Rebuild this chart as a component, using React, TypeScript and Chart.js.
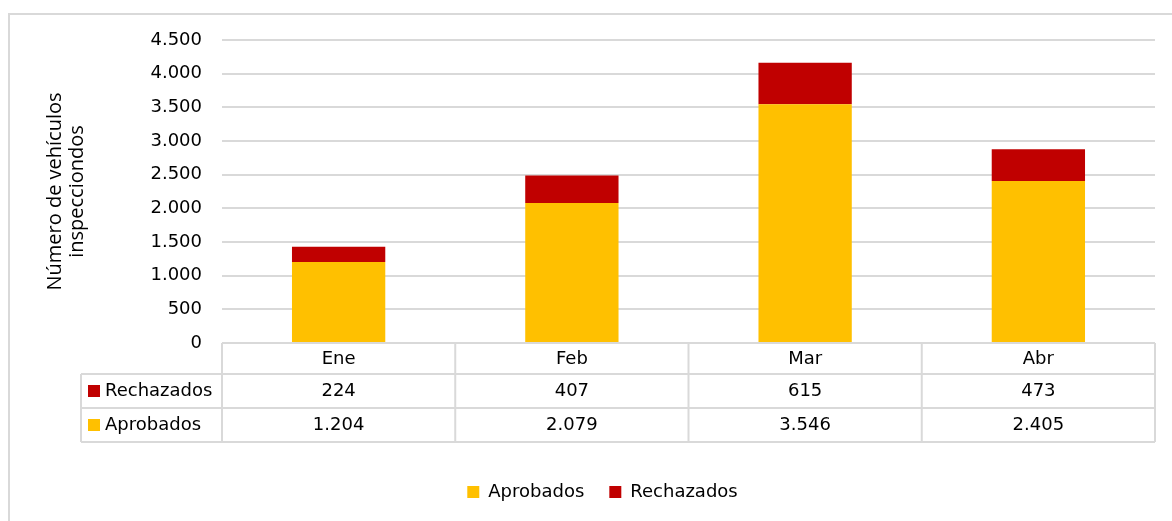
import React, { useEffect, useRef } from "react";
import { Chart, registerables } from "chart.js";

Chart.register(...registerables);

const categories = ["Ene", "Feb", "Mar", "Abr"];
const aprobados = [1204, 2079, 3546, 2405];
const rechazados = [224, 407, 615, 473];
const seriesNames = { aprobados: "Aprobados", rechazados: "Rechazados" };
const yTitle = ["Número de vehículos", "inspecciondos"];
const yMin = 0;
const yMax = 4500;
const yStep = 500;

const COLOR_APROB = "#FFC000";
const COLOR_RECH = "#C00000";
const GRID = "#d9d9d9";
const FONT = "'DejaVu Sans', sans-serif";

const fmt = (v: number) =>
  Math.round(v)
    .toString()
    .replace(/\B(?=(\d{3})+(?!\d))/g, ".");

const tableRows = [
  { label: seriesNames.rechazados, color: COLOR_RECH, values: rechazados },
  { label: seriesNames.aprobados, color: COLOR_APROB, values: aprobados },
];

const HEADER_H = 31;
const ROW_H = 34;
const LEGEND_COL_W = 141;

const tablePlugin = {
  id: "dataTable",
  afterDraw(chart: any) {
    const { ctx, chartArea } = chart;
    const x = chart.scales.x;
    const n = categories.length;
    const step = x.getPixelForValue(1) - x.getPixelForValue(0);
    const left = x.getPixelForValue(0) - step / 2;
    const right = x.getPixelForValue(n - 1) + step / 2;
    const top = chartArea.bottom;
    const headerBottom = top + HEADER_H;
    const bottom = headerBottom + ROW_H * tableRows.length;
    const legLeft = left - LEGEND_COL_W;

    ctx.save();
    ctx.strokeStyle = GRID;
    ctx.lineWidth = 2;
    ctx.beginPath();
    ctx.moveTo(left, top);
    ctx.lineTo(right, top);
    for (let r = 0; r <= tableRows.length; r++) {
      const y = headerBottom + r * ROW_H;
      ctx.moveTo(legLeft, y);
      ctx.lineTo(right, y);
    }
    ctx.moveTo(legLeft, headerBottom);
    ctx.lineTo(legLeft, bottom);
    for (let i = 0; i <= n; i++) {
      const xx = left + i * step;
      ctx.moveTo(xx, top);
      ctx.lineTo(xx, bottom);
    }
    ctx.stroke();

    ctx.font = `18px ${FONT}`;
    ctx.fillStyle = "#000";
    ctx.textBaseline = "middle";
    tableRows.forEach((row, r) => {
      const cy = headerBottom + r * ROW_H + ROW_H / 2;
      ctx.fillStyle = row.color;
      ctx.fillRect(legLeft + 7, cy - 6, 12, 12);
      ctx.fillStyle = "#000";
      ctx.textAlign = "left";
      ctx.fillText(row.label, legLeft + 24, cy);
      ctx.textAlign = "center";
      row.values.forEach((v, i) => {
        ctx.fillText(fmt(v), x.getPixelForValue(i), cy);
      });
    });
    ctx.restore();
  },
};

export default function App() {
  const ref = useRef<HTMLCanvasElement | null>(null);

  useEffect(() => {
    if (!ref.current) return;
    const chart = new Chart(ref.current, {
      type: "bar",
      data: {
        labels: categories,
        datasets: [
          {
            label: seriesNames.aprobados,
            data: aprobados,
            backgroundColor: COLOR_APROB,
            borderWidth: 0,
            barPercentage: 0.4,
            categoryPercentage: 1,
          },
          {
            label: seriesNames.rechazados,
            data: rechazados,
            backgroundColor: COLOR_RECH,
            borderWidth: 0,
            barPercentage: 0.4,
            categoryPercentage: 1,
          },
        ],
      },
      options: {
        responsive: false,
        animation: false,
        layout: { padding: { left: 40, right: 17, top: 25, bottom: 10 } },
        plugins: {
          tooltip: { enabled: false },
          legend: {
            position: "bottom",
            labels: {
              boxWidth: 12,
              boxHeight: 12,
              color: "#000",
              padding: 25,
              font: { family: FONT, size: 18 },
            },
          },
        },
        scales: {
          x: {
            stacked: true,
            grid: { display: false },
            border: { display: false },
            ticks: {
              color: "#000",
              padding: -2,
              font: { family: FONT, size: 18 },
            },
            afterFit(scale: any) {
              scale.height = 115;
            },
          },
          y: {
            stacked: true,
            min: yMin,
            max: yMax,
            grid: {
              color: GRID,
              lineWidth: 2,
              drawTicks: true,
              tickLength: 14,
              tickColor: "rgba(0,0,0,0)",
            },
            border: { display: false },
            ticks: {
              stepSize: yStep,
              color: "#000",
              padding: 6,
              font: { family: FONT, size: 18 },
              callback: (v: any) => fmt(Number(v)),
            },
            title: {
              display: true,
              text: yTitle,
              color: "#000",
              padding: { top: -6, bottom: 0 },
              font: { family: "'Open Sans', sans-serif", size: 20, lineHeight: 1.1 },
            },
            afterFit(scale: any) {
              scale.width = 172;
            },
          },
        },
      },
      plugins: [tablePlugin],
    });
    return () => chart.destroy();
  }, []);

  return (
    <div
      style={{
        position: "fixed",
        left: 0,
        top: 0,
        width: 1172,
        height: 521,
        background: "#fff",
        overflow: "hidden",
      }}
    >
      <div
        style={{
          position: "absolute",
          left: 8,
          top: 13,
          width: 1200,
          height: 600,
          borderLeft: `2px solid ${GRID}`,
          borderTop: `2px solid ${GRID}`,
        }}
      />
      <canvas
        ref={ref}
        width={1162}
        height={506}
        style={{ position: "absolute", left: 10, top: 15, width: 1162, height: 506 }}
      />
    </div>
  );
}
